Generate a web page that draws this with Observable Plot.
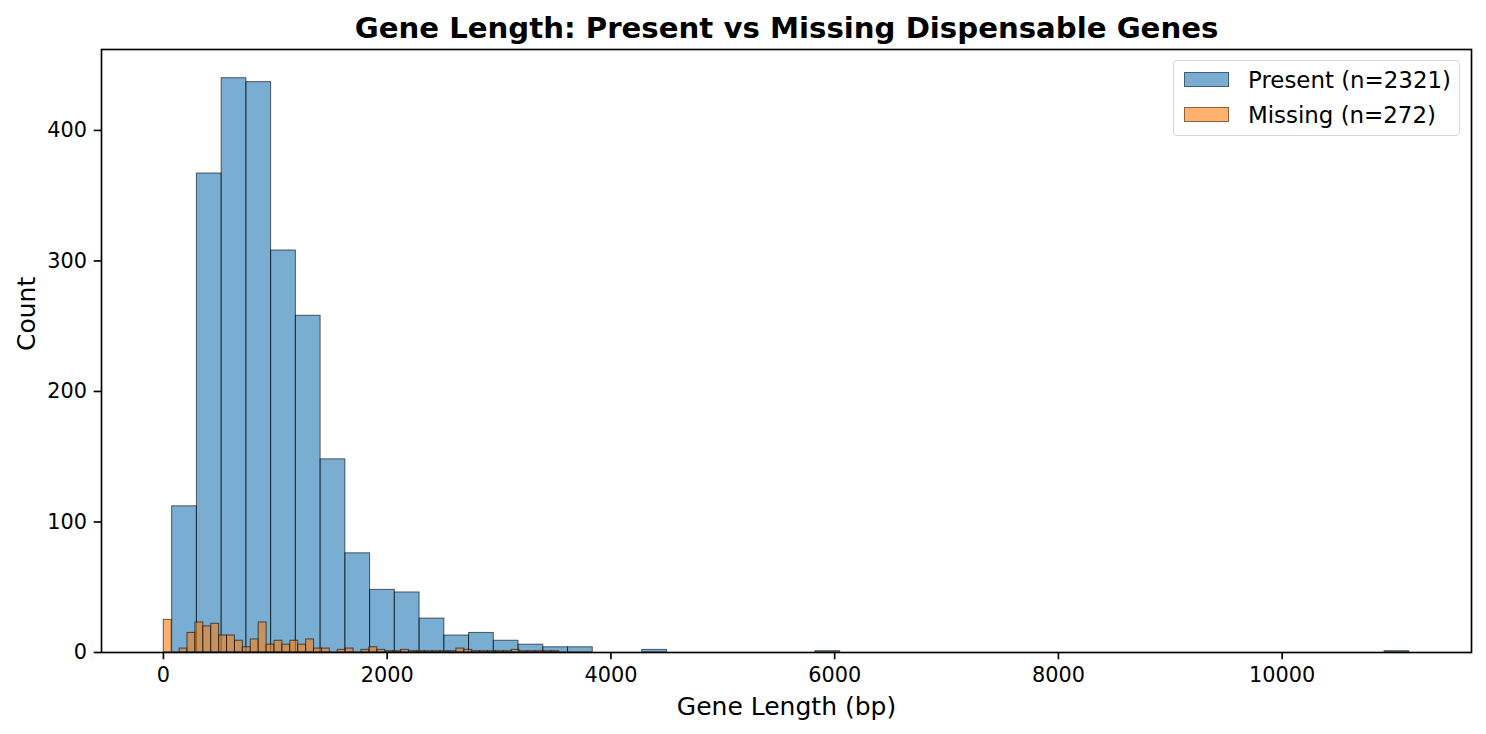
<!DOCTYPE html>
<html>
<head>
<meta charset="utf-8">
<script src="https://cdn.jsdelivr.net/npm/d3@7"></script>
<script src="https://cdn.jsdelivr.net/npm/@observablehq/plot@0.6"></script>
<style>
  html, body { margin: 0; padding: 0; background: white; }
  #wrap { position: relative; width: 1486px; height: 734px; font-family: "DejaVu Sans", sans-serif; }
  #legend { position: absolute; left: 1173px; top: 60px; width: 285px; height: 74px;
            border: 1.5px solid #d6d6d6; border-radius: 4px; background: rgba(255,255,255,0.8); }
  .item { position: absolute; left: 10px; height: 20px; }
  .sw { position: absolute; left: 0; width: 45px; height: 15px; box-sizing: border-box; }
  .lab { position: absolute; left: 64px; top: -7.5px; font-size: 22.9px; white-space: nowrap; color: black; line-height: 30px; }
</style>
</head>
<body>
<div id="wrap"></div>
<script>
// ---- data ----
const seriesNames = ["Present (n=2321)", "Missing (n=272)"];
const seriesColors = ["#1f77b4", "#ff7f0e"];

// Present genes: 50 bins
const presentMin = 78;
const presentMax = 11136;
const presentCounts = [112, 367, 440, 437, 308, 258, 148, 76, 48, 46,
                       26, 13, 15, 9, 6, 4, 4, 0, 0, 2,
                       0, 0, 0, 0, 0, 0, 1, 0, 0, 0,
                       0, 0, 0, 0, 0, 0, 0, 0, 0, 0,
                       0, 0, 0, 0, 0, 0, 0, 0, 0, 1];

// Missing genes: 50 bins
const missingMin = 3;
const missingMax = 3538;
const missingCounts = [25, 0, 3, 15, 23, 20, 22, 13, 13, 9,
                       4, 10, 23, 6, 9, 6, 9, 6, 10, 3,
                       3, 0, 2, 3, 0, 2, 4, 2, 1, 1,
                       2, 1, 1, 1, 1, 1, 1, 3, 2, 1,
                       1, 1, 1, 1, 2, 1, 1, 1, 1, 1];

const xTicks = [0, 2000, 4000, 6000, 8000, 10000];
const yTicks = [0, 100, 200, 300, 400];

const titleText = "Gene Length: Present vs Missing Dispensable Genes";
const xLabel = "Gene Length (bp)";
const yLabel = "Count";

// ---- build bins ----
function toBins(counts, lo, hi, series) {
  const w = (hi - lo) / counts.length;
  return counts.map((c, i) => ({x1: lo + i * w, x2: lo + (i + 1) * w, count: c, series}))
               .filter(d => d.count > 0);
}
const presentBins = toBins(presentCounts, presentMin, presentMax, seriesNames[0]);
const missingBins = toBins(missingCounts, missingMin, missingMax, seriesNames[1]);

const dataLo = Math.min(presentMin, missingMin), dataHi = Math.max(presentMax, missingMax);
const pad = 0.05 * (dataHi - dataLo);
const xDomain = [dataLo - pad, dataHi + pad];
const yMax = 1.05 * Math.max(...presentCounts, ...missingCounts);

const lw = 1.67;

const chart = Plot.plot({
  width: 1486,
  height: 734,
  marginLeft: 101,
  marginRight: 15,
  marginTop: 49,
  marginBottom: 82,
  x: {domain: xDomain},
  y: {domain: [0, yMax]},
  style: {background: "white", fontFamily: "'DejaVu Sans', sans-serif", fontSize: "20.8px", color: "black", overflow: "visible"},
  marks: [
    Plot.rectY(presentBins, {x1: "x1", x2: "x2", y: "count", inset: 0,
      fill: seriesColors[0], fillOpacity: 0.6, stroke: "black", strokeOpacity: 0.6, strokeWidth: 1}),
    Plot.rectY(missingBins, {x1: "x1", x2: "x2", y: "count", inset: 0,
      fill: seriesColors[1], fillOpacity: 0.6, stroke: "black", strokeOpacity: 0.6, strokeWidth: 1}),
    Plot.frame({stroke: "black", strokeWidth: lw}),
    Plot.axisX({ticks: xTicks, tickFormat: "d", tickSize: 7.3, tickPadding: 7.3, strokeWidth: lw, label: null, fontSize: 20.8}),
    Plot.axisY({ticks: yTicks, tickFormat: "d", tickSize: 7.3, tickPadding: 7.3, strokeWidth: lw, label: null, fontSize: 20.8}),
    Plot.text([titleText], {frameAnchor: "top", lineAnchor: "bottom", dy: -12, text: d => d,
      fontSize: 29.2, fontWeight: "bold", fill: "black"}),
    Plot.text([xLabel], {frameAnchor: "bottom", lineAnchor: "bottom", dy: 62, text: d => d,
      fontSize: 25, fill: "black"}),
    Plot.text([yLabel], {frameAnchor: "left", lineAnchor: "bottom", rotate: -90, dx: -67, text: d => d,
      fontSize: 25, fill: "black"})
  ]
});

const wrap = document.getElementById("wrap");
wrap.appendChild(chart);

// legend
const legend = document.createElement("div");
legend.id = "legend";
seriesNames.forEach((name, i) => {
  const item = document.createElement("div");
  item.className = "item";
  item.style.top = (11 + i * 35) + "px";
  const sw = document.createElement("div");
  sw.className = "sw";
  const c = d3.color(seriesColors[i]); c.opacity = 0.6;
  sw.style.background = c.formatRgb();
  sw.style.border = "1px solid rgba(0,0,0,0.45)";
  const lab = document.createElement("div");
  lab.className = "lab";
  lab.textContent = name;
  item.appendChild(sw);
  item.appendChild(lab);
  legend.appendChild(item);
});
wrap.appendChild(legend);
</script>
</body>
</html>
